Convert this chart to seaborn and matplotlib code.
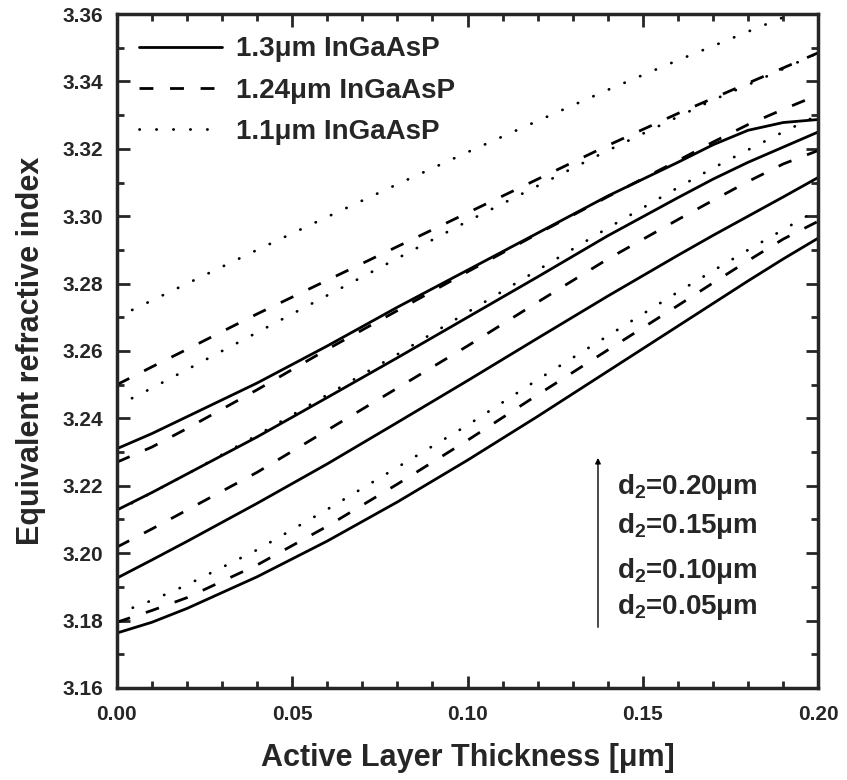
import numpy as np
import pandas as pd
import seaborn as sns
import matplotlib.pyplot as plt
from matplotlib.lines import Line2D

# active layer thickness [um]
thickness = [0.00, 0.01, 0.02, 0.04, 0.06, 0.08, 0.10, 0.12, 0.14, 0.16, 0.17, 0.18, 0.19, 0.20]

# 1.3 um InGaAsP (solid), d2 = 0.05 / 0.10 / 0.15 / 0.20 um
n13_d005 = [3.1763, 3.1795, 3.1836, 3.1930, 3.2036, 3.2152, 3.2276, 3.2406, 3.2540, 3.2674, 3.2741, 3.2808, 3.2873, 3.2935]
n13_d010 = [3.1926, 3.1980, 3.2035, 3.2148, 3.2265, 3.2388, 3.2512, 3.2638, 3.2763, 3.2884, 3.2943, 3.3000, 3.3057, 3.3115]
n13_d015 = [3.2128, 3.2180, 3.2235, 3.2345, 3.2462, 3.2580, 3.2700, 3.2820, 3.2942, 3.3055, 3.3110, 3.3160, 3.3205, 3.3250]
n13_d020 = [3.2310, 3.2355, 3.2405, 3.2505, 3.2615, 3.2730, 3.2840, 3.2950, 3.3060, 3.3160, 3.3212, 3.3255, 3.3278, 3.3287]

# 1.24 um InGaAsP (dashed)
n124_d005 = [3.1795, 3.1830, 3.1868, 3.1965, 3.2080, 3.2205, 3.2335, 3.2470, 3.2603, 3.2735, 3.2802, 3.2868, 3.2932, 3.2985]
n124_d010 = [3.2018, 3.2072, 3.2128, 3.2240, 3.2365, 3.2490, 3.2615, 3.2745, 3.2873, 3.2990, 3.3047, 3.3103, 3.3155, 3.3195]
n124_d015 = [3.2270, 3.2315, 3.2370, 3.2485, 3.2605, 3.2720, 3.2835, 3.2948, 3.3058, 3.3165, 3.3220, 3.3272, 3.3317, 3.3360]
n124_d020 = [3.2500, 3.2553, 3.2605, 3.2710, 3.2810, 3.2910, 3.3010, 3.3110, 3.3210, 3.3305, 3.3350, 3.3395, 3.3440, 3.3485]

# 1.1 um InGaAsP (dotted)
n11_d005 = [3.1820, 3.1860, 3.1906, 3.2010, 3.2130, 3.2255, 3.2380, 3.2515, 3.2645, 3.2775, 3.2838, 3.2900, 3.2960, 3.3020]
n11_d010 = [3.2125, 3.2180, 3.2235, 3.2350, 3.2470, 3.2590, 3.2715, 3.2840, 3.2965, 3.3085, 3.3143, 3.3197, 3.3250, 3.3300]
n11_d015 = [3.2437, 3.2490, 3.2545, 3.2655, 3.2765, 3.2875, 3.2985, 3.3090, 3.3195, 3.3295, 3.3345, 3.3390, 3.3437, 3.3485]
n11_d020 = [3.2700, 3.2750, 3.2800, 3.2900, 3.2998, 3.3095, 3.3190, 3.3283, 3.3375, 3.3463, 3.3505, 3.3548, 3.3590, 3.3630]

materials = ["1.3", "1.24", "1.1"]
d2_values = ["0.05", "0.10", "0.15", "0.20"]
curves = {
    "1.3": [n13_d005, n13_d010, n13_d015, n13_d020],
    "1.24": [n124_d005, n124_d010, n124_d015, n124_d020],
    "1.1": [n11_d005, n11_d010, n11_d015, n11_d020],
}

rows = []
for mat in materials:
    for d2, vals in zip(d2_values, curves[mat]):
        for t, n in zip(thickness, vals):
            rows.append({"material": mat, "d2": d2, "thickness": t, "n": n})
df = pd.DataFrame(rows)

sns.set_style("ticks")
plt.rcParams["font.family"] = ["Liberation Sans", "DejaVu Sans"]
plt.rcParams["font.weight"] = "bold"
plt.rcParams["mathtext.fontset"] = "custom"
plt.rcParams["mathtext.bf"] = "Liberation Sans:bold"
plt.rcParams["mathtext.rm"] = "Liberation Sans:bold"
plt.rcParams["mathtext.default"] = "bf"

fig = plt.figure(figsize=(8.47, 7.80), dpi=100)
ax = fig.add_axes([0.138, 0.118, 0.828, 0.864])

styles = {"1.3": ("", "butt"), "1.24": ((5, 6), "butt"), "1.1": ((0.1, 6), "round")}
lw = 2.0
for mat in materials:
    sub = df[df["material"] == mat]
    n_before = len(ax.lines)
    sns.lineplot(data=sub, x="thickness", y="n", units="d2", estimator=None,
                 color="black", lw=lw, legend=False, ax=ax)
    dash, cap = styles[mat]
    for line in ax.lines[n_before:]:
        if dash:
            line.set_dashes(dash)
        line.set_dash_capstyle(cap)

ax.set_xlim(0, 0.20)
ax.set_ylim(3.16, 3.36)
ax.set_xticks(np.arange(0, 0.201, 0.05))
ax.set_yticks(np.arange(3.16, 3.361, 0.02))
ax.set_xticks(np.arange(0, 0.201, 0.01), minor=True)
ax.set_yticks(np.arange(3.16, 3.361, 0.01), minor=True)
ax.xaxis.set_major_formatter(plt.FormatStrFormatter("%.2f"))
ax.yaxis.set_major_formatter(plt.FormatStrFormatter("%.2f"))
ax.tick_params(which="both", direction="in", top=True, right=True, width=2, labelsize=15)
ax.tick_params(axis="x", which="major", length=9, pad=12)
ax.tick_params(axis="y", which="major", length=9, pad=10)
ax.tick_params(which="minor", length=5)
for s in ax.spines.values():
    s.set_linewidth(2.5)

ax.set_xlabel("Active Layer Thickness [μm]", fontsize=22, fontweight="bold", labelpad=14)
ax.set_ylabel("Equivalent refractive index", fontsize=22, fontweight="bold", labelpad=12)

handles = [
    Line2D([], [], color="black", lw=lw),
    Line2D([], [], color="black", lw=lw, dashes=(5, 6)),
    Line2D([], [], color="black", lw=lw, dashes=(0.1, 6), dash_capstyle="round"),
]
labels = [f"{m}μm InGaAsP" for m in materials]
ax.legend(handles, labels, loc="upper left", frameon=False, fontsize=20,
          handlelength=3.0, handletextpad=0.5, labelspacing=0.55,
          borderaxespad=0.4)

# d2 annotation
ax.annotate("", xy=(0.1372, 3.2291), xytext=(0.1372, 3.1772),
            arrowprops=dict(arrowstyle="-|>", color="black", lw=1, mutation_scale=8))
for d2, yy in zip(d2_values[::-1], [3.2195, 3.2082, 3.1946, 3.1839]):
    ax.text(0.1425, yy, f"d$_2$=0.{d2[2:]}μm", fontsize=20, fontweight="bold",
            va="center", ha="left")

fig.savefig("out.png", dpi=100)
